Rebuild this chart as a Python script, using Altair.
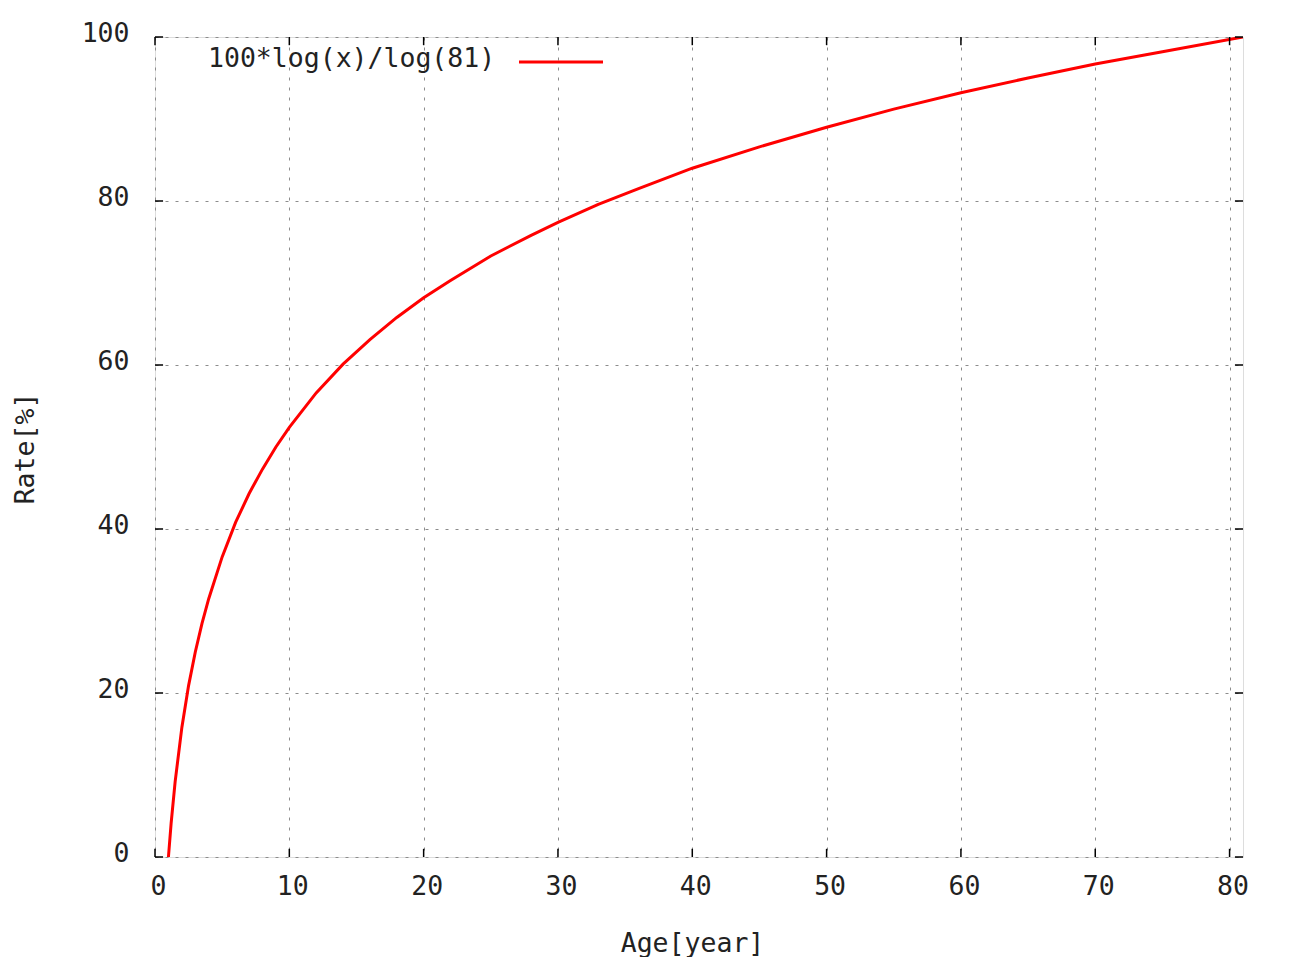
import altair as alt
import pandas as pd

# Curve values
age = [1, 1.2, 1.5, 2, 2.5, 3, 3.5, 4, 5, 6, 7, 8, 9, 10, 12, 14, 16, 18, 20,
       22, 25, 28, 30, 33, 36, 40, 45, 50, 55, 60, 65, 70, 75, 81]
rate = [0, 4.1, 9.2, 15.8, 20.9, 25.0, 28.5, 31.5, 36.6, 40.8, 44.3, 47.3, 50.0,
        52.4, 56.6, 60.1, 63.1, 65.8, 68.2, 70.3, 73.3, 75.8, 77.4, 79.6, 81.5,
        84.0, 86.6, 89.0, 91.2, 93.2, 95.0, 96.7, 98.2, 100.0]

x_ticks = [0, 10, 20, 30, 40, 50, 60, 70, 80]
y_ticks = [0, 20, 40, 60, 80, 100]
legend_label = "100*log(x)/log(81)"

FONT = "DejaVu Sans Mono"
FS = 26.5
TXT = "#222222"
W, H = 1088, 820
XMAX, YMAX = 81, 100

df = pd.DataFrame({"age": age, "rate": rate})

xs = alt.Scale(domain=[0, XMAX], nice=False, zero=False)
ys = alt.Scale(domain=[0, YMAX], nice=False)

grid_kw = dict(grid=True, gridColor="#8c8c8c", gridDash=[3, 7], gridWidth=1)

xaxis = alt.Axis(values=x_ticks, ticks=False, domain=False, labelFont=FONT,
                 labelFontSize=FS, labelColor=TXT, labelPadding=16,
                 labelFlush=False, labelOverlap=False, labelOffset=3,
                 title="Age[year]", titleFont=FONT, titleFontSize=FS,
                 titleFontWeight="normal", titleColor=TXT,
                 titleX=537, titleY=86, titleBaseline="middle", titleAlign="center",
                 **grid_kw)
yaxis = alt.Axis(values=y_ticks, ticks=False, domain=False, labelFont=FONT,
                 labelFontSize=FS, labelColor=TXT, labelPadding=26,
                 labelOffset=-4, labelFlush=False, labelOverlap=False,
                 title="Rate[%]", titleFont=FONT, titleFontSize=FS,
                 titleFontWeight="normal", titleColor=TXT,
                 titleX=-130, titleY=411, titleAngle=270,
                 titleBaseline="middle", titleAlign="center",
                 **grid_kw)

curve = alt.Chart(df).mark_line(color="#ff0000", strokeWidth=3, clip=True).encode(
    x=alt.X("age:Q", scale=xs, axis=xaxis),
    y=alt.Y("rate:Q", scale=ys, axis=yaxis),
)

# inward ticks (gnuplot style), mirrored on all four sides
xt = pd.DataFrame({"v": x_ticks})
yt = pd.DataFrame({"v": y_ticks})
tick_len_y = 1.0   # in y data units
tick_len_x = 0.6   # in x data units

bottom_ticks = alt.Chart(xt).mark_rule(color="black", strokeWidth=1.5).encode(
    x=alt.X("v:Q", scale=xs), y=alt.datum(0), y2=alt.datum(tick_len_y))
top_ticks = alt.Chart(xt).mark_rule(color="black", strokeWidth=1.5).encode(
    x=alt.X("v:Q", scale=xs), y=alt.datum(YMAX), y2=alt.datum(YMAX - tick_len_y))
left_ticks = alt.Chart(yt).mark_rule(color="black", strokeWidth=1.5).encode(
    y=alt.Y("v:Q", scale=ys), x=alt.datum(0), x2=alt.datum(tick_len_x))
right_ticks = alt.Chart(yt).mark_rule(color="black", strokeWidth=1.5).encode(
    y=alt.Y("v:Q", scale=ys), x=alt.datum(XMAX), x2=alt.datum(XMAX - tick_len_x))

legend_text = alt.Chart(pd.DataFrame({"t": [legend_label]})).mark_text(
    font=FONT, fontSize=FS, color=TXT, align="left", baseline="middle"
).encode(text="t:N", x=alt.value(53), y=alt.value(22))
legend_line = alt.Chart(pd.DataFrame({"t": [legend_label]})).mark_rule(
    color="#ff0000", strokeWidth=3
).encode(x=alt.value(364), x2=alt.value(448), y=alt.value(25))

chart = alt.layer(
    curve, bottom_ticks, top_ticks, left_ticks, right_ticks, legend_text, legend_line
).properties(
    width=W, height=H,
    autosize=alt.AutoSizeParams(type="none"),
    padding={"left": 147, "top": 29, "right": 40, "bottom": 100},
).configure_view(stroke="black", strokeWidth=1.5).configure(background="white")

chart.save("out.html", embed_options={"renderer": "svg", "actions": False})
